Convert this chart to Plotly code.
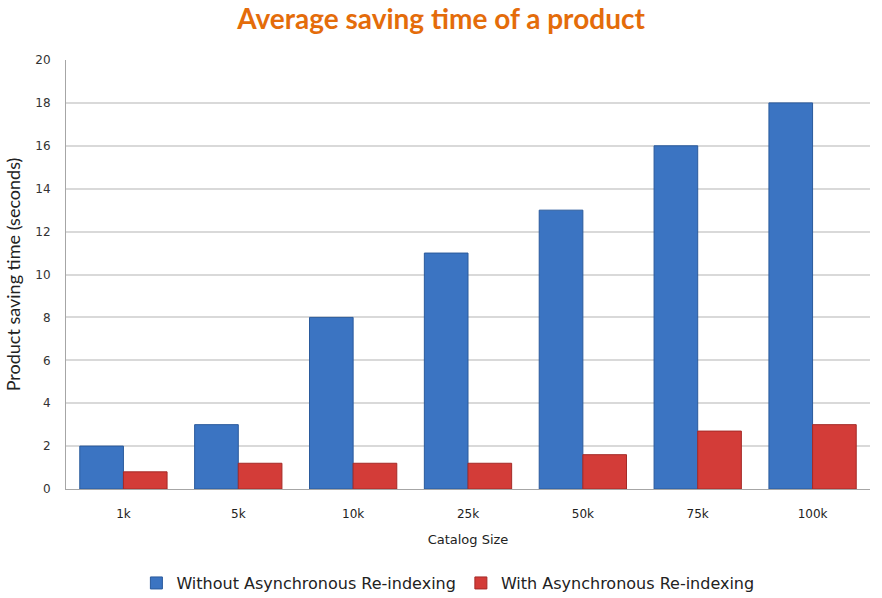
import plotly.graph_objects as go

categories = ["1k", "5k", "10k", "25k", "50k", "75k", "100k"]
without_async = [2, 3, 8, 11, 13, 16, 18]
with_async = [0.8, 1.2, 1.2, 1.2, 1.6, 2.7, 3.0]
y_ticks = list(range(0, 21, 2))

fig = go.Figure()
fig.add_trace(go.Bar(
    x=categories, y=without_async, name="Without Asynchronous Re-indexing",
    marker=dict(color="#3B74C2", line=dict(color="#2A5A9C", width=1)),
))
fig.add_trace(go.Bar(
    x=categories, y=with_async, name="With Asynchronous Re-indexing",
    marker=dict(color="#D33C38", line=dict(color="#A52A27", width=1)),
))

fig.update_layout(
    width=882, height=598,
    margin=dict(l=66, r=12, t=60, b=109, autoexpand=False),
    paper_bgcolor="white", plot_bgcolor="white",
    barmode="group", bargap=0.24, bargroupgap=0,
    title=dict(
        text="<b>Average saving time of a product</b>",
        x=0.5, xanchor="center", y=0.968, yanchor="middle",
        font=dict(family="Lato, Open Sans, sans-serif", size=28, color="#E46C0A"),
    ),
    xaxis=dict(
        title=dict(text="Catalog Size", font=dict(family="DejaVu Sans, Verdana", size=13, color="#222"), standoff=14),
        tickfont=dict(family="DejaVu Sans, Verdana", size=12, color="#222"),
        showline=True, linecolor="#A6A6A6", linewidth=1,
        ticks="", ticklabelstandoff=14,
    ),
    yaxis=dict(
        title=dict(text="Product saving time (seconds)", font=dict(family="Lato, Open Sans", size=18, color="#222"), standoff=10),
        tickfont=dict(family="DejaVu Sans, Verdana", size=12, color="#333"),
        range=[0, 20], tickvals=y_ticks,
        showgrid=True, gridcolor="#D9D9D9", gridwidth=1.5,
        showline=True, linecolor="#A6A6A6", linewidth=1,
        ticks="", ticklabelstandoff=12, zeroline=False,
    ),
    legend=dict(
        orientation="h", x=0.475, xanchor="center", yref="container", y=0.025, yanchor="middle",
        font=dict(family="DejaVu Sans, Arial", size=16, color="#222"),
        itemwidth=30, tracegroupgap=0,
    ),
)

fig.write_html("out.html")
